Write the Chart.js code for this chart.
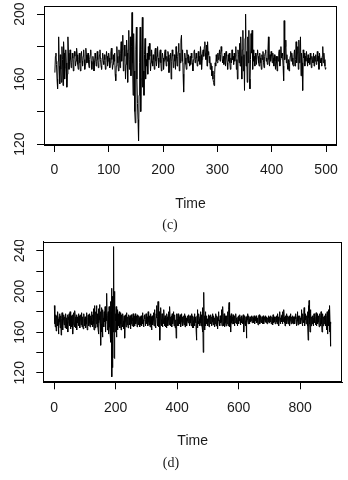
<!DOCTYPE html>
<html><head><meta charset="utf-8">
<script src="https://cdn.jsdelivr.net/npm/chart.js@4"></script>
<style>
html,body{margin:0;padding:0;background:#fff;}
#wrap{position:relative;width:348px;height:480px;}
canvas{position:absolute;left:0;}
</style></head><body>
<div id="wrap">
<canvas id="c1" width="348" height="240" style="top:0"></canvas>
<canvas id="c2" width="348" height="240" style="top:240px"></canvas>
</div>
<script>
const seriesC = [
164,174,176,169,160,154,171,186,168,157,
175,166,158,180,172,156,183,176,160,167,
178,170,155,163,186,176,166,171,178,172,
167,170,176,173,165,172,177,174,168,171,
179,175,169,166,172,176,170,165,174,177,
171,168,174,178,172,166,169,179,175,170,
173,176,170,167,172,175,178,171,166,170,
174,171,165,170,176,173,168,171,177,172,
167,170,175,178,172,168,166,173,176,171,
169,175,172,166,170,177,174,168,171,176,
173,167,170,176,179,172,166,169,175,171,
176,163,159,168,180,174,170,165,178,173,
167,176,183,171,178,187,165,170,181,174,
160,169,184,176,158,178,190,166,172,186,
162,180,201,170,150,188,165,140,133,178,
192,160,145,135,122,150,170,192,140,160,
178,198,155,165,150,175,185,160,172,168,
176,163,180,172,182,174,165,170,178,171,
168,175,172,166,177,179,171,168,174,180,
173,167,171,176,178,170,165,172,176,173,
166,171,176,178,172,168,174,171,177,175,
164,170,173,176,160,171,178,174,167,170,
175,171,166,180,173,168,174,177,182,165,
176,170,184,187,171,178,163,152,170,176,
173,169,166,178,174,170,175,171,168,174,
169,176,173,170,165,172,177,178,170,172,
176,173,168,170,177,171,174,169,180,175,
166,172,177,178,174,180,183,176,172,181,
168,183,175,177,170,174,166,170,168,162,
165,160,158,156,163,170,168,175,171,170,
176,172,174,178,171,175,180,177,172,170,
174,169,176,172,168,177,174,170,166,175,
171,176,170,166,173,170,178,172,174,169,
176,171,174,180,166,172,160,178,175,170,
182,168,186,174,160,178,190,165,175,153,
185,200,168,177,158,186,170,190,160,154,
172,188,176,190,166,178,171,174,168,176,
172,169,175,178,174,170,168,176,173,170,
166,175,172,177,170,167,174,176,178,171,
173,169,176,186,172,168,175,171,177,174,
170,176,173,168,175,171,166,174,170,165,
174,171,176,178,168,172,180,173,176,174,
168,159,196,172,180,184,170,175,168,166,
172,165,170,174,177,171,176,173,169,168,
175,178,168,172,183,170,176,180,166,184,
170,174,186,162,176,170,153,178,173,176,
168,174,171,177,173,168,175,170,173,169,
176,172,167,174,172,170,176,168,174,171,
175,169,172,177,171,174,166,176,172,170,
173,168,174,180,170,176,172,168,166,167
];
const seriesD = [
186,168,172,165,177,174,161,170,176,171,166,180,173,169,158,167,175,178,170,164,
171,176,157,166,173,179,168,170,162,174,177,172,167,170,175,164,169,178,173,168,
174,163,170,177,160,169,175,172,178,166,170,180,171,163,168,176,174,165,170,177,
158,167,174,179,170,165,172,181,175,168,164,171,177,162,170,175,169,173,178,166,
171,176,168,164,172,177,174,167,170,179,165,172,175,168,163,171,178,173,166,170,
175,169,164,172,179,176,168,162,171,174,177,170,166,173,178,169,165,176,172,168,
174,180,167,171,165,177,173,183,168,162,186,175,170,164,180,172,168,186,176,165,
178,170,163,183,158,169,176,187,172,165,180,147,168,160,184,177,171,155,182,174,
168,165,180,176,170,185,160,168,178,190,171,198,162,169,176,180,158,167,185,173,
165,160,190,175,150,180,203,116,195,125,185,160,230,244,135,200,134,186,160,178,
171,185,155,168,177,182,162,170,178,173,166,180,171,164,176,179,168,162,174,177,
169,165,174,178,171,163,168,176,172,154,170,177,174,165,169,179,172,167,175,170,
164,171,177,174,167,172,176,169,163,170,177,173,168,166,174,171,178,170,165,173,
176,170,166,178,174,168,171,176,172,165,169,177,173,167,171,176,174,168,165,175,
171,167,176,173,166,170,179,175,168,172,165,171,176,173,177,169,166,172,178,174,
168,171,175,169,166,180,174,170,167,176,172,165,178,173,168,175,162,170,176,173,
167,173,179,172,166,171,182,176,169,164,172,178,174,186,170,166,175,190,171,165,
174,180,169,152,168,176,184,172,166,171,178,165,170,176,173,168,182,174,166,171,
176,170,165,174,164,171,178,175,168,166,173,180,172,167,170,185,175,166,171,174,
169,176,165,178,173,168,172,180,175,166,170,174,177,164,169,172,154,175,178,170,
166,173,178,174,166,170,175,171,168,177,173,165,170,176,178,169,172,175,166,170,
176,171,167,174,178,165,171,176,168,174,170,166,173,176,171,169,174,177,170,166,
173,176,169,174,170,166,178,173,169,164,176,171,164,170,175,178,166,171,174,169,
175,160,152,168,176,182,164,171,174,168,178,173,166,170,175,180,169,166,174,177,
166,178,160,184,140,174,199,168,176,162,172,180,166,171,175,176,168,173,169,166,
172,177,170,165,173,176,171,168,174,177,170,166,175,172,178,170,167,173,176,170,
165,172,174,168,178,173,166,171,176,174,169,163,175,171,180,174,168,172,166,176,
173,169,175,182,170,166,172,176,185,170,166,174,178,165,171,175,176,169,166,173,
176,171,168,180,174,166,170,182,189,172,165,176,170,166,160,178,173,169,168,175,
171,177,174,168,170,166,176,173,169,175,178,171,168,174,170,166,172,175,176,170,
168,174,171,177,173,167,170,175,169,176,173,168,171,174,177,170,160,168,174,176,
171,168,166,175,172,154,170,176,178,172,168,171,176,173,169,168,175,172,170,174,
171,176,173,169,172,175,174,169,170,176,173,170,168,172,175,171,176,174,169,171,
174,170,167,171,174,176,177,172,168,170,173,176,171,169,172,175,171,168,173,176,
171,168,172,175,174,170,176,173,169,170,175,172,168,171,174,170,176,173,169,172,
175,171,170,176,173,168,172,175,174,170,167,177,172,169,175,173,170,171,168,175,
173,170,176,172,168,174,178,171,170,175,166,172,176,180,171,168,174,172,176,170,
177,172,168,180,174,170,182,175,169,171,166,172,176,170,178,173,168,172,176,174,
168,171,175,170,176,166,171,174,178,173,168,175,172,169,174,176,168,171,175,172,
170,175,168,176,173,178,170,166,172,175,180,171,167,174,176,170,168,173,176,171,
174,168,172,176,182,170,166,174,178,172,169,175,184,170,166,176,172,178,168,174,
170,176,172,180,166,152,186,174,191,168,171,160,182,176,178,166,172,175,168,174,
176,171,166,174,178,169,172,176,170,167,175,179,166,172,176,178,168,171,174,176,
170,165,175,178,172,166,174,180,168,171,160,174,177,178,166,171,175,168,176,172,
174,166,178,172,162,170,176,180,158,171,168,182,166,174,160,186,170,150,146,168
];
const xTicksC = [0,100,200,300,400,500];
const yTicksC = [120,140,160,180,200];
const yLabelsC = [120,160,200];
const xTicksD = [0,200,400,600,800];
const yTicksD = [120,140,160,180,200,220,240];
const yLabelsD = [120,160,200,240];
const xTitle = 'Time';
const captionC = '(c)';
const captionD = '(d)';

const TXT = '#1a1a1a';
const SANS = "'Liberation Sans', Arial, sans-serif";
const SERIF = "'Liberation Serif', 'Times New Roman', serif";
const FS = 14;

const boxPlugin = {
  id: 'rbox',
  afterDatasetsDraw(chart) {
    const {ctx, chartArea: a} = chart;
    ctx.save();
    ctx.strokeStyle = '#000';
    ctx.lineWidth = 1;
    const l = Math.round(a.left) + 0.5, t = Math.round(a.top) + 0.5;
    const r = Math.round(a.right) - 0.5, b = Math.round(a.bottom) - 0.5;
    ctx.strokeRect(l, t, r - l, b - t);
    ctx.restore();
  }
};

const yLabelPlugin = {
  id: 'ylab',
  afterDraw(chart, args, opts) {
    const {ctx} = chart;
    const ys = chart.scales.y;
    ctx.save();
    ctx.fillStyle = TXT;
    ctx.font = FS + 'px ' + SANS;
    ctx.textAlign = 'center';
    ctx.textBaseline = 'middle';
    opts.labels.forEach(v => {
      const py = ys.getPixelForValue(v);
      ctx.save();
      ctx.translate(opts.x, py);
      ctx.rotate(-Math.PI / 2);
      ctx.fillText(String(v), 0, 0);
      ctx.restore();
    });
    ctx.restore();
  }
};

function makeChart(id, series, c) {
  const pts = series.map((v, i) => ({x: i + 1, y: v}));
  const gridOpts = {drawOnChartArea: false, drawTicks: true, tickLength: 7, color: '#000', lineWidth: 1};
  return new Chart(document.getElementById(id), {
    type: 'line',
    data: {datasets: [{data: pts, borderColor: '#000', borderWidth: 1, pointRadius: 0, tension: 0, fill: false}]},
    plugins: [boxPlugin, yLabelPlugin],
    options: {
      responsive: false, maintainAspectRatio: false, animation: false, devicePixelRatio: 1,
      parsing: false, normalized: true,
      layout: {padding: {top: c.padTop, right: c.padRight, left: 0, bottom: 0}},
      plugins: {
        legend: {display: false}, tooltip: {enabled: false},
        title: {display: true, text: c.caption, position: 'bottom', color: TXT,
          font: {family: SERIF, size: 14, weight: 'normal'}, padding: {top: 0, bottom: c.capPad}},
        ylab: {labels: c.yLabels, x: c.yLabX}
      },
      scales: {
        x: {
          type: 'linear', min: c.xMin, max: c.xMax,
          afterBuildTicks: s => { s.ticks = c.xTicks.map(v => ({value: v})); },
          afterFit: s => { s.height = c.xHeight; },
          grid: gridOpts,
          border: {display: true, color: '#000', width: 1},
          ticks: {color: TXT, font: {family: SANS, size: FS}, padding: c.tickPad, maxRotation: 0, minRotation: 0, autoSkip: false},
          title: {display: true, text: xTitle, color: TXT, font: {family: SANS, size: FS}, padding: {top: 0, bottom: c.xTitlePad}}
        },
        y: {
          type: 'linear', min: c.yMin, max: c.yMax,
          afterBuildTicks: s => { s.ticks = c.yTicks.map(v => ({value: v})); },
          afterFit: s => { s.width = c.yWidth; },
          grid: gridOpts,
          border: {display: true, color: '#000', width: 1},
          ticks: {display: false}
        }
      }
    }
  });
}

makeChart('c1', seriesC, {
  xMin: -19, xMax: 520, yMin: 119.4, yMax: 205, xTicks: xTicksC, yTicks: yTicksC, yLabels: yLabelsC,
  padTop: 6, padRight: 8, yWidth: 44, xHeight: 72.2, capPad: 6, xTitlePad: 4.9, tickPad: 10, yLabX: 20.5,
  caption: captionC
});
makeChart('c2', seriesD, {
  xMin: -35, xMax: 936, yMin: 110.6, yMax: 248.8, xTicks: xTicksD, yTicks: yTicksD, yLabels: yLabelsD,
  padTop: 1.7, padRight: 6, yWidth: 43.3, xHeight: 72.3, capPad: 8.6, xTitlePad: 4.6, tickPad: 10, yLabX: 20,
  caption: captionD
});
</script>
</body></html>
